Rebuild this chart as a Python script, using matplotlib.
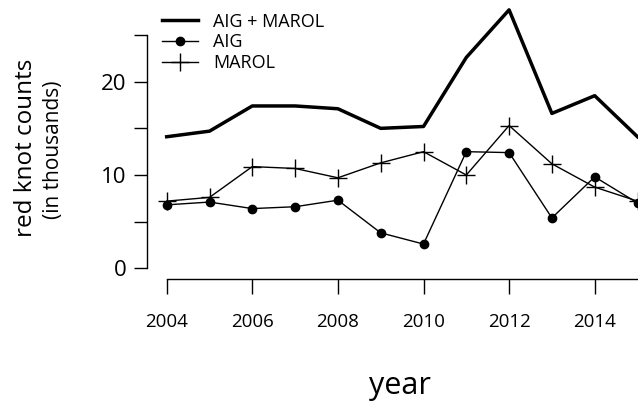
import numpy as np
import matplotlib
matplotlib.use("Agg")
import matplotlib.pyplot as plt

plt.rcParams['font.family'] = ['Open Sans', 'DejaVu Sans']

# data (thousands of birds)
years = [2004, 2005, 2006, 2007, 2008, 2009, 2010, 2011, 2012, 2013, 2014, 2015]
aig = [6.8, 7.1, 6.4, 6.6, 7.3, 3.8, 2.6, 12.5, 12.4, 5.4, 9.8, 7.0]
marol = [7.2, 7.6, 10.9, 10.7, 9.7, 11.3, 12.5, 10.0, 15.3, 11.2, 8.7, 7.2]
total = [14.1, 14.7, 17.4, 17.4, 17.1, 15.0, 15.2, 22.6, 27.7, 16.6, 18.5, 14.1]

xticks = [2004, 2006, 2008, 2010, 2012, 2014]
yticks = [0, 5, 10, 15, 20, 25]
ylabels = ["0", "", "10", "", "20", ""]

W, H = 638, 401
fig = plt.figure(figsize=(W / 100, H / 100), dpi=100)

# axes placed in pixel terms (R style detached axes)
left_px, right_px = 146.7, 680
top_px, bottom_px = 0, 279.3
ax = fig.add_axes([left_px / W, 1 - bottom_px / H,
                   (right_px - left_px) / W, (bottom_px - top_px) / H])

px_per_year = 42.8
px_per_unit = 9.33
x0_px, y0_px = 166.7, 268.3
ax.set_xlim(2004 - (x0_px - left_px) / px_per_year,
            2004 + (right_px - x0_px) / px_per_year)
ax.set_ylim(-(bottom_px - y0_px) / px_per_unit,
            (y0_px - top_px) / px_per_unit)

ax.plot(years, total, color='black', lw=2.5, label='AIG + MAROL', clip_on=False)
ax.plot(years, aig, color='black', lw=1.0, marker='o', ms=6, label='AIG', clip_on=False)
ax.plot(years, marol, color='black', lw=1.0, marker='+', ms=13, mew=1.0,
        label='MAROL', clip_on=False)

for s in ['top', 'right']:
    ax.spines[s].set_visible(False)
ax.spines['left'].set_bounds(0, 25)
ax.spines['bottom'].set_bounds(2004, 2016)
ax.spines['left'].set_linewidth(1.0)
ax.spines['bottom'].set_linewidth(1.0)

ax.set_yticks(yticks)
ax.set_yticklabels(ylabels, fontsize=16)
ax.set_xticks(xticks)
ax.set_xticklabels([str(x) for x in xticks], fontsize=13.5)
ax.tick_params(axis='y', length=9.5, width=1.0, pad=5)
ax.tick_params(axis='x', length=11, width=1.0, pad=13)

fig.text(26 / W, 1 - 148 / H, "red knot counts", rotation=90,
         ha='center', va='center', fontsize=17.5)
fig.text(53 / W, 1 - 150 / H, "(in thousands)", rotation=90,
         ha='center', va='center', fontsize=15)
fig.text(400 / W, 1 - 386 / H, "year", ha='center', va='center', fontsize=22)

fig.legend(loc='upper left', bbox_to_anchor=(155 / W, 1 - 5.5 / H), frameon=False,
           fontsize=13, handlelength=2.0, handletextpad=0.8, labelspacing=0.15,
           borderaxespad=0)

fig.savefig("out.png", dpi=100)
